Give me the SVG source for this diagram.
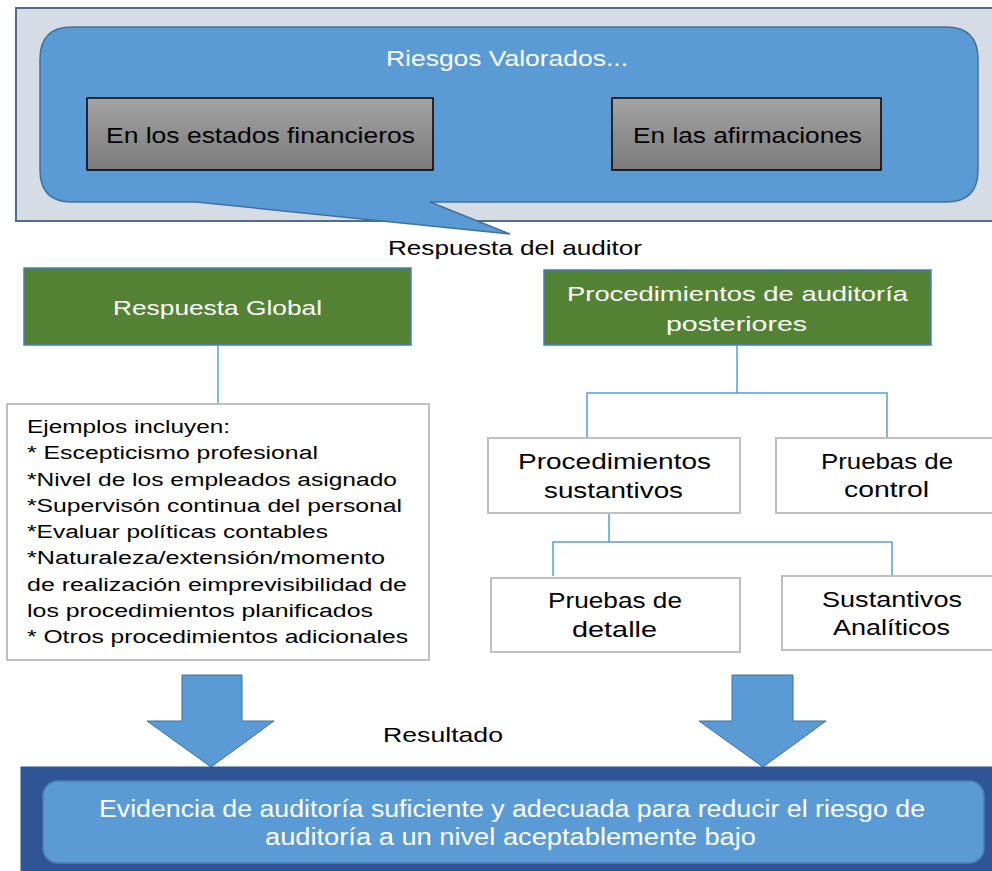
<svg xmlns="http://www.w3.org/2000/svg" width="992" height="871" viewBox="0 0 992 871">
<defs>
<linearGradient id="gray" x1="0" y1="0" x2="0" y2="1">
<stop offset="0" stop-color="#A3A3A3"/>
<stop offset="1" stop-color="#7B7B7B"/>
</linearGradient>
<style>
text{font-family:"Liberation Sans",Arial,sans-serif}
.w{fill:#FFFFFF}
.k{fill:#000000}
.green{fill:#548235;stroke:#4A7EBB;stroke-width:1.5}
.box{fill:#FFFFFF;stroke:#BFBFBF;stroke-width:2}
.gbox{fill:url(#gray);stroke:#000000;stroke-width:1.5}
.conn{stroke:#5B9BD5;stroke-width:1.5;fill:none}
.arrow{fill:#5B9BD5;stroke:#41719C;stroke-width:1}
</style>
</defs>
<rect width="992" height="871" fill="#FFFFFF"/>
<g id="top-frame">
<rect x="16" y="8" width="985" height="213" fill="#D6DCE5" stroke="#4F6A8C" stroke-width="2"/>
</g>
<g id="riesgos">
<path d="M 72,27 H 946 Q 978,27 978,59 V 170 Q 978,202 946,202 H 430 L 510,234 L 196,202 H 72 Q 40,202 40,170 V 59 Q 40,27 72,27 Z" fill="#5B9BD5" stroke="#41719C" stroke-width="1.5"/>
<text x="386" y="66" font-size="22" class="w" textLength="242" lengthAdjust="spacingAndGlyphs">Riesgos Valorados...</text>
</g>
<g id="estados">
<rect x="87" y="98" width="346" height="72" class="gbox"/>
<text x="106" y="143" font-size="22" class="k" textLength="309" lengthAdjust="spacingAndGlyphs">En los estados financieros</text>
</g>
<g id="afirmaciones">
<rect x="612" y="98" width="269" height="72" class="gbox"/>
<text x="633" y="143" font-size="22" class="k" textLength="229" lengthAdjust="spacingAndGlyphs">En las afirmaciones</text>
</g>
<g id="respuesta-label">
<text x="388" y="255" font-size="21" class="k" textLength="254" lengthAdjust="spacingAndGlyphs">Respuesta del auditor</text>
</g>
<g id="connectors">
<line x1="218" y1="345" x2="218" y2="404" class="conn"/>
<line x1="737" y1="345" x2="737" y2="393" class="conn"/>
<polyline points="587,438 587,393 887,393 887,438" class="conn"/>
<line x1="609" y1="513" x2="609" y2="542" class="conn"/>
<polyline points="553,576 553,542 892,542 892,576" class="conn"/>
<polygon points="182,675 242,675 242,721 274,721 211,767 147,721 182,721" class="arrow"/>
<polygon points="732,675 793,675 793,721 826,721 763,767 699,721 732,721" class="arrow"/>
</g>
<g id="respuesta-global">
<rect x="24" y="268" width="387" height="77" class="green"/>
<text x="113" y="315" font-size="21" class="w" textLength="209" lengthAdjust="spacingAndGlyphs">Respuesta Global</text>
</g>
<g id="ejemplos">
<rect x="7" y="404" width="422" height="256" class="box"/>
<g font-size="18" class="k">
<text x="27" y="433" textLength="203" lengthAdjust="spacingAndGlyphs">Ejemplos incluyen:</text>
<text x="27" y="459" textLength="291" lengthAdjust="spacingAndGlyphs">* Escepticismo profesional</text>
<text x="27" y="486" textLength="370" lengthAdjust="spacingAndGlyphs">*Nivel de los empleados asignado</text>
<text x="27" y="512" textLength="375" lengthAdjust="spacingAndGlyphs">*Supervisón continua del personal</text>
<text x="27" y="538" textLength="301" lengthAdjust="spacingAndGlyphs">*Evaluar políticas contables</text>
<text x="27" y="564" textLength="358" lengthAdjust="spacingAndGlyphs">*Naturaleza/extensión/momento</text>
<text x="27" y="591" textLength="380" lengthAdjust="spacingAndGlyphs">de realización eimprevisibilidad de</text>
<text x="27" y="617" textLength="346" lengthAdjust="spacingAndGlyphs">los procedimientos planificados</text>
<text x="27" y="643" textLength="381" lengthAdjust="spacingAndGlyphs">* Otros procedimientos adicionales</text>
</g>
</g>
<g id="procedimientos-posteriores">
<rect x="544" y="270" width="387" height="75" class="green"/>
<text x="567" y="301" font-size="21" class="w" textLength="341" lengthAdjust="spacingAndGlyphs">Procedimientos de auditoría</text>
<text x="666" y="331" font-size="21" class="w" textLength="141" lengthAdjust="spacingAndGlyphs">posteriores</text>
</g>
<g id="sustantivos">
<rect x="488" y="438" width="252" height="75" class="box"/>
<text x="518" y="469" font-size="22" class="k" textLength="193" lengthAdjust="spacingAndGlyphs">Procedimientos</text>
<text x="544" y="498" font-size="22" class="k" textLength="139" lengthAdjust="spacingAndGlyphs">sustantivos</text>
</g>
<g id="control">
<rect x="776" y="438" width="224" height="75" class="box"/>
<text x="821" y="469" font-size="22" class="k" textLength="132" lengthAdjust="spacingAndGlyphs">Pruebas de</text>
<text x="844" y="497" font-size="22" class="k" textLength="85" lengthAdjust="spacingAndGlyphs">control</text>
</g>
<g id="detalle">
<rect x="491" y="578" width="249" height="74" class="box"/>
<text x="548" y="608" font-size="22" class="k" textLength="134" lengthAdjust="spacingAndGlyphs">Pruebas de</text>
<text x="572" y="637" font-size="22" class="k" textLength="85" lengthAdjust="spacingAndGlyphs">detalle</text>
</g>
<g id="analiticos">
<rect x="782" y="576" width="218" height="74" class="box"/>
<text x="822" y="607" font-size="22" class="k" textLength="140" lengthAdjust="spacingAndGlyphs">Sustantivos</text>
<text x="833" y="635" font-size="22" class="k" textLength="117" lengthAdjust="spacingAndGlyphs">Analíticos</text>
</g>
<g id="resultado-label">
<text x="383" y="742" font-size="21" class="k" textLength="120" lengthAdjust="spacingAndGlyphs">Resultado</text>
</g>
<g id="evidencia">
<rect x="21" y="767" width="980" height="110" fill="#2F5597" stroke="#2F528F" stroke-width="1"/>
<rect x="43" y="781" width="941" height="82" rx="15" fill="#5B9BD5" stroke="#4A7EBB" stroke-width="1.5"/>
<text x="99" y="817" font-size="23.5" class="w" textLength="826" lengthAdjust="spacingAndGlyphs">Evidencia de auditoría suficiente y adecuada para reducir el riesgo de</text>
<text x="265" y="845" font-size="23.5" class="w" textLength="491" lengthAdjust="spacingAndGlyphs">auditoría a un nivel aceptablemente bajo</text>
</g>
</svg>
